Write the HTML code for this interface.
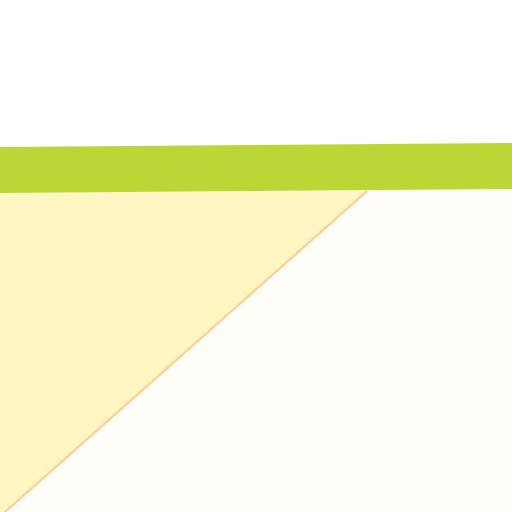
<!DOCTYPE html>
<html><head><meta charset="utf-8"><style>html,body{margin:0;padding:0;background:#fff;width:512px;height:512px;overflow:hidden;}svg{display:block;}</style></head>
<body>
<svg width="512" height="512">
<g id="g"></g>
</svg>
<script>
// Zoomed area chart: x domain points, series values
const xs = [0, 1];
const bandTop = [147, 143];      // upper series (value scale mapped to y)
const bandBottom = [193, 189];
const diagX = [367, 5];           // lower area boundary x at band bottom / chart bottom
const diagY = [191, 512];
function sx(v){ return v*512; }
const g = document.getElementById('g');
const NS='http://www.w3.org/2000/svg';
function mk(tag, attrs, name){
  const e=document.createElementNS(NS,tag);
  for(const k in attrs) e.setAttribute(k,attrs[k]);
  
  
  g.appendChild(e); return e;
}
mk('rect',{x:0,y:bandBottom[1],width:512,height:512-bandBottom[1],fill:'#fffdf8'},'background-area');
mk('polygon',{points:`0,${bandBottom[0]} ${diagX[0]},${diagY[0]} ${diagX[1]},${diagY[1]} 0,512`,fill:'#fff6c2'},'yellow-area');
mk('line',{x1:diagX[0],y1:diagY[0],x2:diagX[1],y2:diagY[1],stroke:'#ffcc8c','stroke-width':2},'area-boundary-line');
mk('polygon',{points:`${sx(xs[0])},${bandTop[0]} ${sx(xs[1])},${bandTop[1]} ${sx(xs[1])},${bandBottom[1]} ${sx(xs[0])},${bandBottom[0]}`,fill:'#bcd636'},'green-band');
</script>
</body></html>
